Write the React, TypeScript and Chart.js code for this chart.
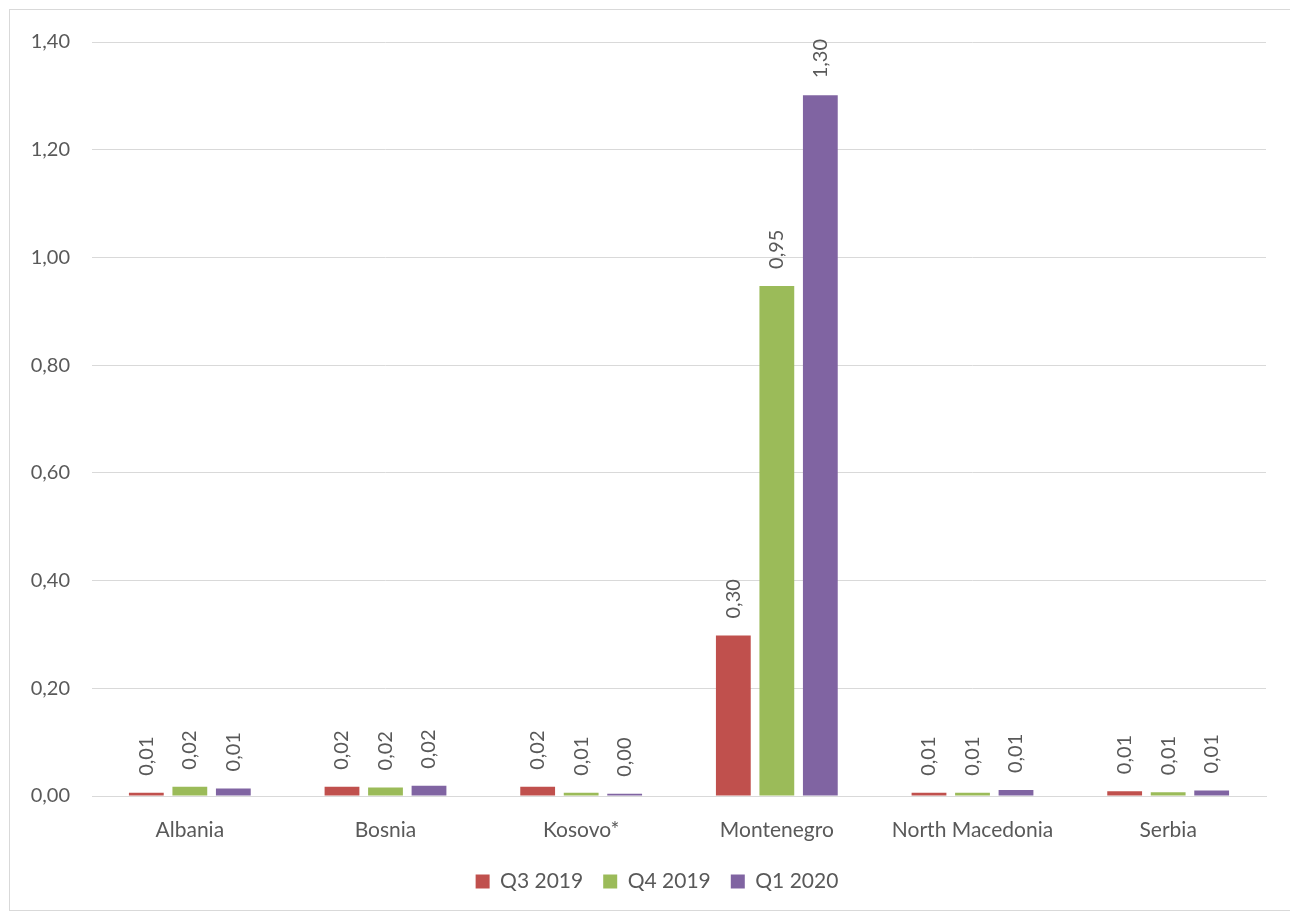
import React, { useEffect, useRef } from "react";
import { Chart, registerables } from "chart.js";

Chart.register(...registerables);

const categories = ["Albania", "Bosnia", "Kosovo*", "Montenegro", "North Macedonia", "Serbia"];
const seriesNames = ["Q3 2019", "Q4 2019", "Q1 2020"];
const q3_2019 = [0.006, 0.017, 0.017, 0.298, 0.006, 0.009];
const q4_2019 = [0.017, 0.016, 0.006, 0.947, 0.006, 0.007];
const q1_2020 = [0.014, 0.019, 0.004, 1.301, 0.011, 0.01];
const seriesColors = ["#C0504D", "#9BBB59", "#8064A2"];
const yTicks = { min: 0, max: 1.4, step: 0.2 };

const FONT = "Lato, 'Open Sans', sans-serif";
const TEXT = "#595959";
const GRID = "#D9D9D9";

const fmt = (v: number) => v.toFixed(2).replace(".", ",");

const labelPlugin = {
  id: "barLabels",
  afterDatasetsDraw(chart: any) {
    const ctx = chart.ctx;
    ctx.save();
    ctx.font = `20px ${FONT}`;
    ctx.fillStyle = TEXT;
    chart.data.datasets.forEach((ds: any, i: number) => {
      const meta = chart.getDatasetMeta(i);
      meta.data.forEach((el: any, j: number) => {
        ctx.save();
        ctx.translate(el.x, el.y - 17);
        ctx.rotate(-Math.PI / 2);
        ctx.textAlign = "left";
        ctx.textBaseline = "middle";
        ctx.fillText(fmt(ds.data[j]), 0, 0);
        ctx.restore();
      });
    });
    ctx.restore();
  },
};

const framePlugin = {
  id: "frame",
  beforeDraw(chart: any) {
    const ctx = chart.ctx;
    ctx.save();
    ctx.fillStyle = "#FFFFFF";
    ctx.fillRect(0, 0, chart.width, chart.height);
    ctx.strokeStyle = GRID;
    ctx.lineWidth = 1;
    ctx.strokeRect(1.5, 1.5, chart.width - 3, chart.height - 3);
    ctx.restore();
  },
};

const legendShiftPlugin = {
  id: "legendShift",
  afterLayout(chart: any) {
    const l = chart.legend;
    if (l) {
      l.left += 20;
      l.right += 20;
    }
  },
};

export default function App() {
  const ref = useRef<HTMLCanvasElement>(null);
  useEffect(() => {
    document.body.style.overflow = "hidden";
    const seriesData = [q3_2019, q4_2019, q1_2020];
    const chart = new Chart(ref.current!, {
      type: "bar",
      data: {
        labels: categories,
        datasets: seriesNames.map((name, i) => ({
          label: name,
          data: seriesData[i],
          backgroundColor: seriesColors[i],
          borderWidth: 0,
          categoryPercentage: 0.667,
          barPercentage: 0.8,
        })),
      },
      options: {
        animation: false,
        responsive: false,
        maintainAspectRatio: false,
        layout: { padding: { top: 29, right: 32, left: 0, bottom: 10 } },
        plugins: {
          tooltip: { enabled: false },
          legend: {
            position: "bottom",
            labels: {
              boxWidth: 14,
              boxHeight: 14,
              padding: 20,
              color: TEXT,
              font: { family: FONT, size: 21 },
            },
          },
        },
        scales: {
          x: {
            grid: { display: false },
            border: { display: true, color: GRID, width: 1 },
            ticks: { color: TEXT, font: { family: FONT, size: 21 }, padding: 14, maxRotation: 0 },
            afterFit(scale: any) {
              scale.height = 55;
            },
          },
          y: {
            min: yTicks.min,
            max: yTicks.max,
            grid: { color: GRID, drawTicks: false },
            border: { display: false },
            ticks: {
              stepSize: yTicks.step,
              color: TEXT,
              padding: 22,
              font: { family: FONT, size: 20 },
              callback: (v: any) => fmt(Number(v)),
            },
            afterFit(scale: any) {
              scale.width = 84;
            },
          },
        },
      },
      plugins: [framePlugin, labelPlugin, legendShiftPlugin],
    });
    return () => chart.destroy();
  }, []);
  return (
    <div style={{ width: 1290, height: 904 }}>
      <canvas ref={ref} width={1290} height={904} style={{ display: "block" }} />
    </div>
  );
}
